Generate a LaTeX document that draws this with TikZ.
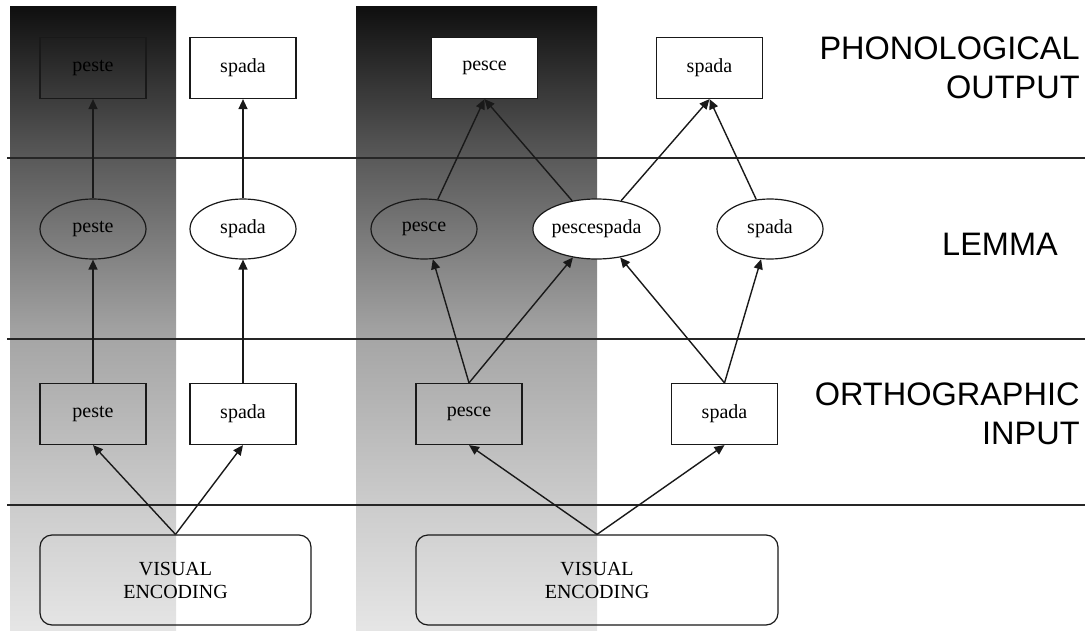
\documentclass[tikz,border=0pt]{standalone}
\usepackage{fontspec}
\setmainfont{Liberation Serif}
\setsansfont{Liberation Sans}
\usetikzlibrary{arrows.meta,shapes.geometric}
\definecolor{lineblack}{RGB}{25,25,25}

% dark at the top, fading to light grey at the bottom
\pgfdeclareverticalshading{fadecolumn}{100bp}{color(0bp)=(black!10); color(25bp)=(black!10);
  color(35bp)=(black!20); color(48.3bp)=(black!35); color(62.9bp)=(black!65);
  color(75bp)=(black!94); color(100bp)=(black!94)}

\begin{document}
\begin{tikzpicture}[x=0.5pt, y=0.5pt,
    >={Triangle[length=5pt,width=4.5pt]},
    wordbox/.style={draw=lineblack, line width=0.6pt, minimum width=53pt, minimum height=30.5pt,
      inner sep=0pt, font=\fontsize{10}{12}\selectfont},
    lemma/.style={draw=lineblack, ellipse, line width=0.6pt, minimum width=53pt, minimum height=30pt,
      inner sep=0pt, font=\fontsize{10}{12}\selectfont},
    encbox/.style={draw=lineblack, rounded corners=6pt, line width=0.6pt, minimum height=45pt,
      align=center, inner sep=0pt, font=\fontsize{10}{11.5}\selectfont},
    level/.style={font=\sffamily\fontsize{16.25}{19.5}\selectfont, align=right, anchor=east, inner sep=0pt},
    link/.style={->, draw=lineblack, line width=0.7pt}]

    \useasboundingbox (0,0) rectangle (1085,633);

    % Shaded columns
    \shade[shading=fadecolumn] (10,3) rectangle (176,626);
    \shade[shading=fadecolumn] (356,3) rectangle (597,626);

    % Level separators
    \foreach \y in {475,294,128}
        \draw[line width=0.75pt, black!85] (7,\y) -- (1085,\y);

    % Left word: peste / spada
    \node[wordbox] (pesteP) at (93,565) {peste};
    \node[wordbox, fill=white] (spadaPa) at (243,565) {spada};
    \node[lemma] (pesteL) at (93,404) {peste};
    \node[lemma, fill=white] (spadaLa) at (243,404) {spada};
    \node[wordbox] (pesteO) at (93,219) {peste};
    \node[wordbox, fill=white] (spadaOa) at (243,219) {spada};
    \node[encbox, minimum width=135.5pt] (visA) at (175.5,53) {VISUAL\\ENCODING};

    % Right word: pescespada
    \node[wordbox, fill=white] (pesceP) at (484.5,565) {pesce};
    \node[wordbox, fill=white] (spadaPb) at (709.5,565) {spada};
    \node[lemma] (pesceL) at (424,404) {pesce};
    \node[lemma, fill=white] (pescespadaL) at (596.5,404) {pescespada};
    \node[lemma, fill=white] (spadaLb) at (770,404) {spada};
    \node[wordbox] (pesceO) at (469,219) {pesce};
    \node[wordbox, fill=white] (spadaOb) at (724.5,219) {spada};
    \node[encbox, minimum width=181pt] (visB) at (597,53) {VISUAL\\ENCODING};

    % Level names
    \node[level] (phon) at (1080,565.5) {PHONOLOGICAL\\OUTPUT};
    \node[font=\sffamily\fontsize{16.25}{19.5}\selectfont] (lemma) at (1000,388.5) {LEMMA};
    \node[level] (ortho) at (1080,219) {ORTHOGRAPHIC\\INPUT};

    % Connections, left
    \draw[link] (visA.north) -- (pesteO.south);
    \draw[link] (visA.north) -- (spadaOa.south);
    \draw[link] (pesteO) -- (pesteL);
    \draw[link] (spadaOa) -- (spadaLa);
    \draw[link] (pesteL) -- (pesteP);
    \draw[link] (spadaLa) -- (spadaPa);

    % Connections, right
    \draw[link] (visB.north) -- (pesceO.south);
    \draw[link] (visB.north) -- (spadaOb.south);
    \draw[link] (pesceO.north) -- (pesceL);
    \draw[link] (pesceO.north) -- (pescespadaL);
    \draw[link] (spadaOb.north) -- (pescespadaL);
    \draw[link] (spadaOb.north) -- (spadaLb);
    \draw[link] (pesceL) -- (pesceP.south);
    \draw[link] (pescespadaL) -- (pesceP.south);
    \draw[link] (pescespadaL) -- (spadaPb.south);
    \draw[link] (spadaLb) -- (spadaPb.south);
\end{tikzpicture}
\end{document}
